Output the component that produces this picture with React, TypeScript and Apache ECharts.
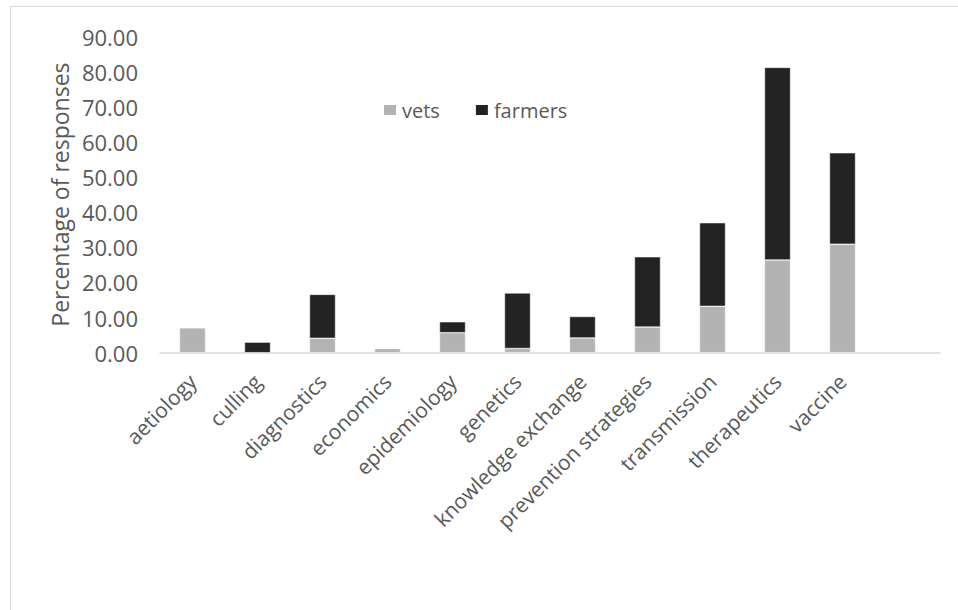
import React, { useEffect, useRef } from "react";
import * as echarts from "echarts";

// Topics raised by respondents; the trailing blank slot leaves room at the right end of the axis
const categories = [
  "aetiology",
  "culling",
  "diagnostics",
  "economics",
  "epidemiology",
  "genetics",
  "knowledge exchange",
  "prevention strategies",
  "transmission",
  "therapeutics",
  "vaccine",
  "",
];

const vets = [7.1, 0, 4.1, 1.2, 5.7, 1.2, 4.2, 7.3, 13.2, 26.4, 30.9];
const farmers = [0, 3.0, 12.5, 0, 3.1, 15.8, 6.1, 20.0, 23.8, 54.8, 26.0];

const yTicks = { min: 0, max: 90, interval: 10 };

const FONT = "'Open Sans', sans-serif";
const TEXT = "#595959";

export default function App() {
  const ref = useRef<HTMLDivElement>(null);

  useEffect(() => {
    if (!ref.current) return;
    const chart = echarts.init(ref.current, null, { renderer: "svg" });
    chart.setOption({
      animation: false,
      backgroundColor: "#ffffff",
      textStyle: { fontFamily: FONT, color: TEXT },
      graphic: [
        {
          type: "rect",
          shape: { x: 10.5, y: 6.5, width: 1000, height: 700 },
          style: { fill: "none", stroke: "#d9d9d9", lineWidth: 1 },
          silent: true,
          z: -1,
        },
      ],
      legend: {
        left: 377,
        top: 95,
        itemWidth: 14,
        itemHeight: 12,
        itemGap: 34,
        icon: "rect",
        textStyle: { fontFamily: FONT, fontSize: 20, color: TEXT },
        data: ["vets", "farmers"],
      },
      grid: { left: 160, right: 18, top: 36.5, bottom: 257.3 },
      xAxis: {
        type: "category",
        data: categories,
        axisLine: { lineStyle: { color: "#d9d9d9", width: 1.5 } },
        axisTick: { show: false },
        axisLabel: {
          rotate: 45,
          interval: 0,
          margin: 25,
          fontFamily: FONT,
          fontSize: 21,
          color: TEXT,
        },
      },
      yAxis: {
        type: "value",
        min: yTicks.min,
        max: yTicks.max,
        interval: yTicks.interval,
        name: "Percentage of responses",
        nameLocation: "middle",
        nameGap: 87,
        nameTextStyle: { fontFamily: FONT, fontSize: 23, color: TEXT },
        axisLine: { show: false },
        axisTick: { show: false },
        splitLine: { show: false },
        axisLabel: {
          margin: 22,
          fontFamily: FONT,
          fontSize: 22,
          color: TEXT,
          formatter: (v: number) => v.toFixed(2),
        },
      },
      series: [
        {
          name: "vets",
          type: "bar",
          stack: "total",
          barWidth: 26,
          data: vets,
          itemStyle: { color: "#b3b3b3", borderColor: "#ffffff", borderWidth: 0.5 },
        },
        {
          name: "farmers",
          type: "bar",
          stack: "total",
          barWidth: 26,
          data: farmers,
          itemStyle: { color: "#232323", borderColor: "#ffffff", borderWidth: 0.5 },
        },
      ],
    });
    return () => chart.dispose();
  }, []);

  return (
    <div
      ref={ref}
      style={{ position: "fixed", left: 0, top: 0, width: 958, height: 610 }}
    />
  );
}
